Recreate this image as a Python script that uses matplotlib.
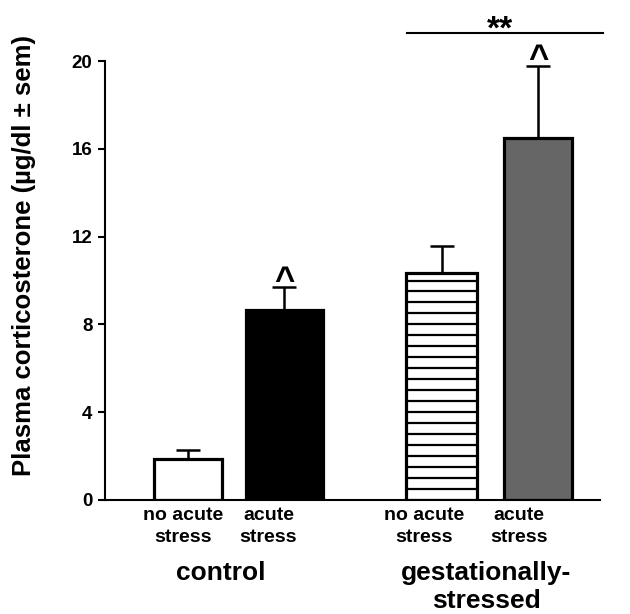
import matplotlib
matplotlib.use('Agg')
import matplotlib.pyplot as plt
import numpy as np

# ---------------- data ----------------
groups = ['control', 'gestationally-\nstressed']
conditions = ['no acute\nstress', 'acute\nstress', 'no acute\nstress', 'acute\nstress']
means = [1.85, 8.65, 10.35, 16.5]
sems = [0.42, 1.05, 1.2, 3.28]
marked = [False, True, False, True]          # "^" markers
yticks = [0, 4, 8, 12, 16, 20]
significance_label = '**'
ylabel = 'Plasma corticosterone (\u00b5g/dl \u00b1 sem)'

# ---------------- style / layout ----------------
positions = [0.0, 1.0, 2.63, 3.63]
widths = [0.71, 0.80, 0.74, 0.70]
facecolors = ['white', 'black', 'white', '#666666']
stripe_flags = [False, False, True, False]
label_dx_px = [-5, -16, -18, -19]
W, H = 630, 614

plt.rcParams['font.family'] = ['Liberation Sans', 'DejaVu Sans']
fig = plt.figure(figsize=(W / 100, H / 100), dpi=100)
ax = fig.add_axes([105 / W, (H - 500) / H, 495 / W, 439 / H])

def fx(px):
    return px / W

def fy(py):
    return 1 - py / H

# bars
bars = ax.bar(positions, means, width=widths, color=facecolors,
              edgecolor='black', linewidth=2.3, zorder=2)

# horizontal stripe fill for striped bars
for pos, w, m, striped in zip(positions, widths, means, stripe_flags):
    if striped:
        ys = np.arange(0.5, m, 0.5)
        ax.hlines(ys, pos - w / 2, pos + w / 2, color='black', linewidth=1.6, zorder=3)

# error bars (upper only)
ax.errorbar(positions, means, yerr=[np.zeros(len(means)), sems], fmt='none',
            ecolor='black', elinewidth=1.8, capsize=8.5, capthick=1.8, zorder=4)

# "^" markers
for pos, m, s, mk in zip(positions, means, sems, marked):
    if mk:
        ax.annotate('^', xy=(pos, m + s), xytext=(0, -2.5), textcoords='offset points',
                    ha='center', va='baseline', fontsize=25, fontweight='bold',
                    annotation_clip=False)

# significance line and stars
x0 = positions[2] - 0.36
x1 = positions[3] + 0.67
y_sig = 21.28
ax.plot([x0, x1], [y_sig, y_sig], color='black', linewidth=1.5, clip_on=False)
ax.annotate(significance_label, xy=((x0 + x1) / 2 - 0.05, y_sig), xytext=(0, -4),
            textcoords='offset points', ha='center', va='baseline',
            fontsize=24, fontweight='bold', annotation_clip=False)

# axes styling
ax.set_xlim(-0.86, 4.27)
ax.set_ylim(0, 20)
ax.set_yticks(yticks)
ax.set_yticklabels([str(t) for t in yticks])
ax.set_xticks([])
for sp in ['top', 'right']:
    ax.spines[sp].set_visible(False)
ax.spines['left'].set_linewidth(1.5)
ax.spines['bottom'].set_linewidth(1.5)
ax.tick_params(axis='y', length=5, width=1.5, pad=4, labelsize=13.5)
for lbl in ax.get_yticklabels():
    lbl.set_fontweight('bold')

# category labels
trans = ax.get_xaxis_transform()
for pos, lab, dx in zip(positions, conditions, label_dx_px):
    ax.annotate(lab, xy=(pos, 0), xycoords=trans, xytext=(dx * 0.72, -5),
                textcoords='offset points', ha='center', va='top',
                fontsize=14, fontweight='bold', linespacing=1.4)

# group labels
fig.text(fx(221), fy(580), groups[0], ha='center', va='baseline',
         fontsize=19, fontweight='bold')
fig.text(fx(486), fy(608), groups[1], ha='center', va='baseline',
         fontsize=19, fontweight='bold', linespacing=1.2)

# y label
fig.text(fx(24), fy(256), ylabel, rotation=90, ha='center', va='center',
         fontsize=18.5, fontweight='bold')

fig.savefig('out.png', dpi=100)
